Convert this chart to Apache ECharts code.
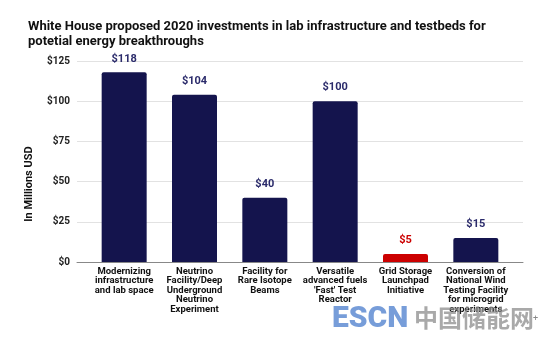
<!DOCTYPE html>
<html><head><meta charset="utf-8">
<script src="https://cdn.jsdelivr.net/npm/echarts@6/dist/echarts.min.js"></script>
<style>html,body{margin:0;padding:0;background:#fff}#c{width:540px;height:338px}</style>
</head><body><div id="c"></div>
<script>
const categories = [
  "Modernizing\ninfrastructure\nand lab space",
  "Neutrino\nFacility/Deep\nUnderground\nNeutrino\nExperiment",
  "Facility for\nRare Isotope\nBeams",
  "Versatile\nadvanced fuels\n'Fast' Test\nReactor",
  "Grid Storage\nLaunchpad\nInitiative",
  "Conversion of\nNational Wind\nTesting Facility\nfor microgrid\nexperiments"
];
const values = [118, 104, 40, 100, 5, 15];
const highlight = [false, false, false, false, true, false];
const yTicks = [0, 25, 50, 75, 100, 125];

const navy = '#14144d', red = '#cc0000';
const font = 'Roboto, "Liberation Sans", Arial, sans-serif';
const chart = echarts.init(document.getElementById('c'), null, {renderer:'canvas'});
chart.setOption({
  animation:false,
  backgroundColor:'#fff',
  title:{
    text:'White House proposed 2020 investments in lab infrastructure and testbeds for\npotetial energy breakthroughs',
    left:23, top:14,
    textStyle:{fontFamily:font, fontWeight:'bold', fontSize:13, color:'#111', lineHeight:15}
  },
  grid:[
    {left:77, right:17, top:61, bottom:76},
    {left:89, right:29, top:61, bottom:76}
  ],
  xAxis:[
    {gridIndex:0, type:'category', data:[''], axisLine:{lineStyle:{color:'#888', width:1}}, axisTick:{show:false}, axisLabel:{show:false}},
    {gridIndex:1, type:'category', data:categories, axisLine:{show:false}, axisTick:{show:false},
      axisLabel:{interval:0, margin:5, fontFamily:font, fontWeight:'bold', fontSize:9.5, lineHeight:9.4, color:'#111', align:'center'}}
  ],
  yAxis:[
    {gridIndex:0, type:'value', min:yTicks[0], max:yTicks[yTicks.length-1], interval:25,
      axisLine:{show:false}, axisTick:{show:false},
      splitLine:{lineStyle:{color:'#e2e2e2', width:1}},
      axisLabel:{margin:7, fontFamily:font, fontWeight:'bold', fontSize:10, color:'#222', formatter:v=>'$'+v}},
    {gridIndex:1, type:'value', min:yTicks[0], max:yTicks[yTicks.length-1], interval:25, show:false}
  ],
  series:[{
    type:'bar', xAxisIndex:1, yAxisIndex:1, barWidth:45,
    data: values.map((v,i)=>({value:v, itemStyle:{color: highlight[i]?red:navy, borderRadius:[2,2,0,0]},
      label:{color: highlight[i]?red:'#2b2b6b'}})),
    label:{show:true, position:'top', distance:8, fontFamily:font, fontWeight:'bold', fontSize:11, formatter:p=>'$'+p.value}
  }],
  graphic:[
    {type:'text', x:29, y:184, rotation:Math.PI/2, style:{text:'In Millions USD', font:'bold 11px '+font, fill:'#111', align:'center', verticalAlign:'middle'}},
    {type:'text', left:332, top:304, z:100, style:{text:'ESCN', font:'900 30px '+font, fill:'rgba(95,140,210,0.85)'}},
    {type:'text', left:414, top:306, z:100, style:{text:'中国储能网', font:'bold 24px "Noto Sans CJK SC"', fill:'rgba(140,140,140,0.75)'}},
    {type:'text', left:533, top:314, z:100, style:{text:'+', font:'9px '+font, fill:'#888'}}
  ]
});
</script></body></html>
